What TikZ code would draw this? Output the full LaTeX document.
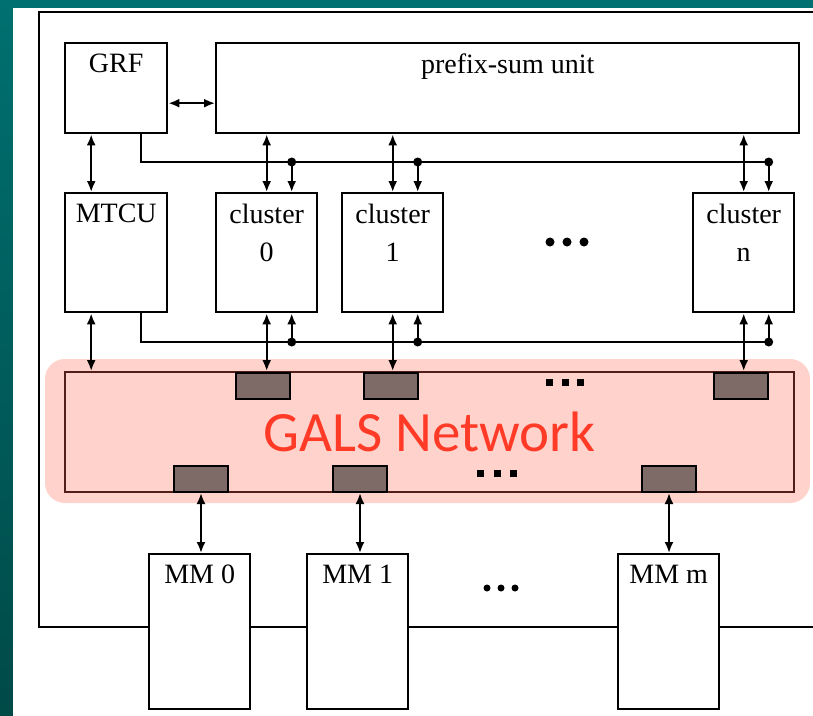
\documentclass[tikz,border=0pt]{standalone}
\usepackage{fontspec}
\setmainfont{Liberation Serif}
\newfontfamily\galsfont{Carlito}
\usetikzlibrary{positioning, calc, arrows.meta}

\definecolor{slideteal}{RGB}{0,112,112}
\definecolor{slidedark}{RGB}{0,74,72}
\definecolor{galspink}{RGB}{255,211,204}
\definecolor{galsred}{RGB}{255,59,40}
\definecolor{galsline}{RGB}{84,30,24}
\definecolor{portgray}{RGB}{126,106,102}

\tikzset{
  blk/.style={draw, line width=2.4pt, fill=white, anchor=north west, inner sep=0pt},
  lbl/.style={anchor=north, inner sep=0pt, yshift=-12pt, align=center, font=\fontsize{28}{38}\selectfont},
  port/.style={draw, line width=2pt, fill=portgray, anchor=north west, inner sep=0pt,
    minimum width=54pt, minimum height=26pt},
  dbl/.style={{Latex[length=11pt,width=9pt]}-{Latex[length=11pt,width=9pt]}, line width=2pt},
  sgl/.style={-{Latex[length=11pt,width=9pt]}, line width=2pt},
  bus/.style={line width=2pt},
}

\begin{document}
\begin{tikzpicture}[x=1pt, y=-1pt]
  % 背景
  \useasboundingbox (0,0) rectangle (813,715);
  \shade[top color=slideteal, bottom color=slidedark] (0,0) rectangle (813,715);
  \fill[white] (13,8) rectangle (814,716);
  \draw[line width=2pt] (814,12) -- (39,12) -- (39,627) -- (814,627);

  % GALS Network
  \fill[galspink, rounded corners=20pt] (45,359) rectangle (810,503);
  \node[blk, fill=galspink, draw=galsline, minimum width=729pt, minimum height=120pt] (gals) at (64,371) {};
  \node[font=\galsfont\fontsize{57}{60}\selectfont, text=galsred] (galstxt) at (gals.center) {GALS Network};
  \foreach \n/\x in {p0/235, p1/363, pn/713}
    \node[port] (\n) at (\x,372) {};
  \foreach \n/\x in {q0/173, q1/332, qn/641}
    \node[port] (\n) at (\x,465) {};
  \foreach \x in {549.5,565,580.5}
    \fill (\x-3.5,378.5) rectangle (\x+3.5,385.5);
  \foreach \x in {480.5,497,513.5}
    \fill (\x-3.5,469.5) rectangle (\x+3.5,476.5);

  % ブロック
  \node[blk, minimum width=102pt, minimum height=90pt, label={[lbl]north:GRF}] (grf) at (64,42) {};
  \node[blk, minimum width=583pt, minimum height=90pt, label={[lbl]north:prefix-sum unit}] (psu) at (215,42) {};
  \node[blk, minimum width=102pt, minimum height=119pt, label={[lbl]north:MTCU}] (mtcu) at (64,192) {};
  \foreach \n/\x/\lab in {c0/215/0, c1/341/1, cn/692/n}
    \node[blk, minimum width=101pt, minimum height=119pt, label={[lbl]north:cluster\\\lab}] (\n) at (\x,192) {};
  \foreach \n/\x/\lab in {mm0/148/0, mm1/306/1, mmm/617/m}
    \node[blk, minimum width=101pt, minimum height=155pt, label={[lbl]north:MM \lab}] (\n) at (\x,553) {};
  \foreach \x in {550,567,584}
    \fill (\x,242) circle (4.5pt);
  \foreach \x in {487,501,515}
    \fill (\x,588) circle (3.5pt);

  % 接続
  \coordinate (busT) at (0,162);
  \coordinate (busB) at (0,342);
  \draw[dbl] ([yshift=-15pt]grf.east) -- ([yshift=-15pt]grf.east -| psu.west);
  \draw[dbl] ([xshift=-25pt]grf.south) -- ([xshift=-25pt]grf.south |- mtcu.north);
  \draw[dbl] ([xshift=-25pt]mtcu.south) -- ([xshift=-25pt]mtcu.south |- gals.north);
  \draw[bus] ([xshift=25pt]grf.south) |- ($(cn.north |- busT)+(25,0)$);
  \draw[bus] ([xshift=25pt]mtcu.south) |- ($(cn.south |- busB)+(25,0)$);
  \foreach \c in {c0,c1,cn} {
    \draw[dbl] (\c.north |- psu.south) -- (\c.north);
    \fill ($(\c.north |- busT)+(25,0)$) circle (4.5pt);
    \draw[sgl] ($(\c.north |- busT)+(25,0)$) -- ($(\c.north)+(25,0)$);
    \fill ($(\c.south |- busB)+(25,0)$) circle (4.5pt);
    \draw[sgl] ($(\c.south |- busB)+(25,0)$) -- ($(\c.south)+(25,0)$);
    \draw[dbl] (\c.south) -- (\c.south |- gals.north);
  }
  \foreach \q/\m in {q0/mm0, q1/mm1, qn/mmm}
    \draw[dbl] (\q.south) -- (\q.south |- \m.north);
\end{tikzpicture}
\end{document}
